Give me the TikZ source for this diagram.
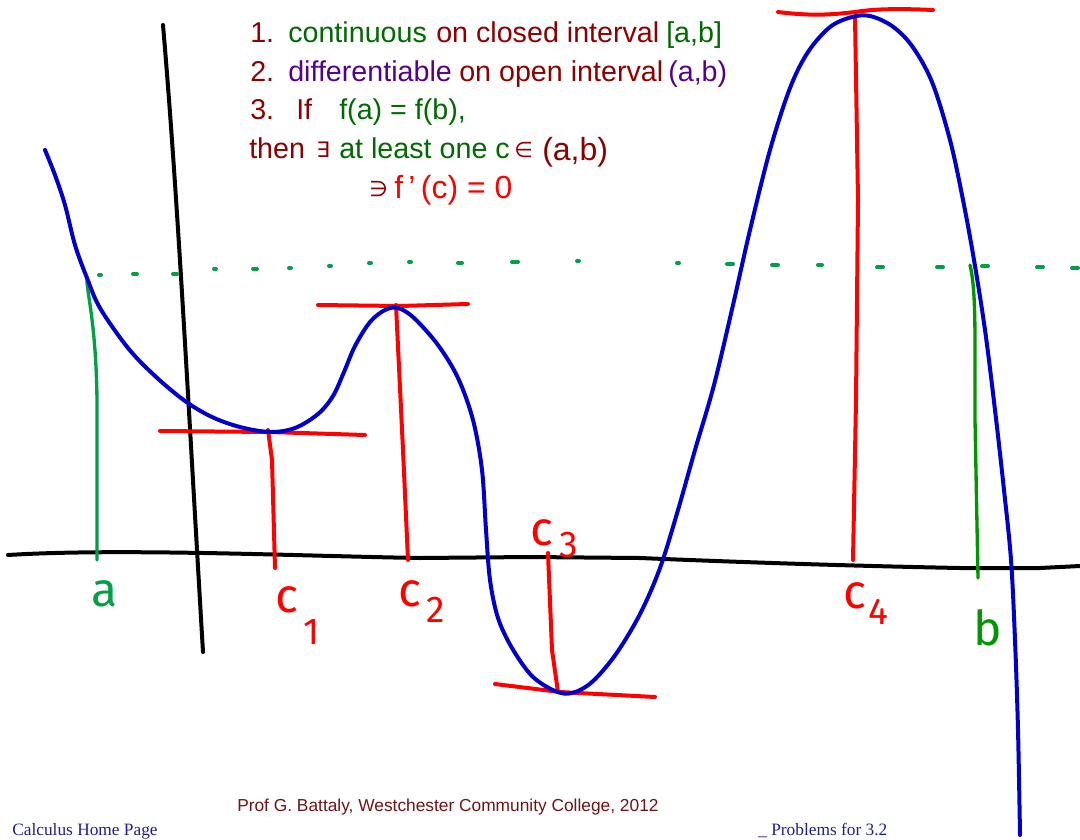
\documentclass[tikz,border=0pt]{standalone}
\usepackage{fontspec}
\setmainfont{Liberation Sans}
\newfontfamily\symf{DejaVu Sans}
\newfontfamily\serf{Liberation Serif}
\newfontfamily\handf{Fira Sans}
\definecolor{dred}{RGB}{140,0,0}
\definecolor{dgreen}{RGB}{0,105,0}
\definecolor{purp}{RGB}{85,0,140}
\definecolor{myblue}{RGB}{0,0,200}
\definecolor{mgreen}{RGB}{0,160,70}
\definecolor{bgreen}{RGB}{0,150,0}
\definecolor{navy}{RGB}{30,30,150}
\definecolor{foot}{RGB}{110,20,20}
\begin{document}
\begin{tikzpicture}[x=0.75pt,y=-0.75pt,
  ink/.style={line width=3pt,line cap=round,line join=round},
  txt/.style={anchor=base west,inner sep=0pt,font=\fontsize{21.5}{24}\selectfont},
  big/.style={anchor=base west,inner sep=0pt,font=\fontsize{24}{27}\selectfont},
  symb/.style={anchor=base west,inner sep=0pt,font=\symf\fontsize{16}{20}\selectfont},
  hand/.style={inner sep=0pt,font=\handf\fontsize{36}{38}\selectfont},
  handsub/.style={inner sep=0pt,font=\handf\fontsize{28}{30}\selectfont}]
\useasboundingbox (0,0) rectangle (1080,839);
% axes
\draw[ink,black] (8,555) .. controls (120,548) and (300,556) .. (420,558) -- (530,557) -- (640,558) .. controls (760,563) and (860,566) .. (960,568) -- (1040,568) -- (1080,566);
\draw[ink,black] (163,25) .. controls (178,200) and (188,400) .. (203,652);
% dotted line
\foreach \x/\y/\l in {100/275/1,135/274/2,175/274/2,215/269/1,255/269/2,290/268/1,330/266/1,370/263/1,410/262/1,460/263/2,515/262/3,578/261/1,678/263/1,730/264/3,775/265/3,820/265/2,880/267/3,940/267/3,985/266/3,1040/267/3,1075/268/3}
  \draw[line width=3pt,mgreen,line cap=round] (\x-\l,\y) -- (\x+\l,\y);
% green verticals
\draw[line width=2.5pt,mgreen,line cap=round] (87,278) .. controls (86,290) and (96,320) .. (97,400) -- (97,560);
\draw[line width=2.5pt,bgreen,line cap=round] (970,265) .. controls (976,290) and (975,330) .. (975,420) -- (978,578);
% red tangents and verticals
\draw[ink,red] (160,431) -- (270,432) -- (365,435);
\draw[ink,red] (268,430) -- (272,460) -- (275,568);
\draw[ink,red] (318,305) -- (400,306) -- (468,304);
\draw[ink,red] (396,305) -- (403,450) -- (408,560);
\draw[ink,red] (495,684) -- (560,692) -- (655,697);
\draw[ink,red] (548,553) -- (552,650) -- (558,692);
\draw[ink,red] (778,12) .. controls (810,16) and (830,15) .. (855,12) .. controls (880,8) and (910,9) .. (933,10);
\draw[ink,red] (855,17) -- (858,200) -- (856,400) -- (853,560);
% blue curve
\draw[ink,myblue] plot[smooth,tension=0.55] coordinates {(45,150) (55,175) (65,205) (75,245) (87,278) (100,308) (128,348) (155,376) (185,401) (212,417) (240,427) (270,432) (295,428) (318,414) (333,396) (344,372) (355,346) (370,322) (385,310) (398,308) (414,318) (438,345) (458,378) (473,420) (482,470) (486,530) (490,580) (498,618) (512,648) (532,676) (555,691) (572,693) (592,682) (616,654) (640,614) (660,568) (678,510) (695,450) (714,385) (733,305) (750,230) (770,150) (790,88) (808,52) (830,27) (852,17) (870,16) (892,26) (912,46) (932,82) (950,140) (963,200) (974,260) (985,330) (995,410) (1004,490) (1011,560) (1015,640) (1018,730) (1020,835)};
% top text
\node[txt,dred] (n1) at (250,42) {1.};
\node[txt,dgreen] (t1a) at (288,42) {continuous};
\node[txt,dred] (t1b) at (436,42) {on closed interval};
\node[txt,dgreen] (t1c) at (666,42) {[a,b]};
\node[txt,dred] (n2) at (250,81) {2.};
\node[txt,purp] (t2a) at (288,81) {differentiable};
\node[txt,dred] (t2b) at (459,81) {on open interval};
\node[txt,purp] (t2c) at (668,81) {(a,b)};
\node[txt,dred] (n3) at (250,119) {3.};
\node[txt,dred] (t3a) at (296,119) {If};
\node[txt,dgreen] (t3b) at (339,119) {f(a) = f(b),};
\node[txt,dred] (t4a) at (249,158) {then};
\node[symb,dred] (t4b) at (316,157) {∃};
\node[txt,dgreen] (t4c) at (339,158) {at least one c};
\node[symb,dred] (t4d) at (514,157) {∈};
\node[big,dred] (t4e) at (542,160) {(a,b)};
\node[symb,dred] (t5a) at (369,196) {∋};
\node[big,red] (t5b) at (394,198) {f\,'\,(c) = 0};
% handwritten labels
\node[hand,mgreen] (la) at (105,594) {a};
\node[hand,red] (lc1) at (287,600) {c};
\node[handsub,red] (lc1s) at (312,632) {1};
\node[hand,red] (lc2) at (410,594) {c};
\node[handsub,red] (lc2s) at (436,610) {2};
\node[hand,red] (lc3) at (542,533) {c};
\node[handsub,red] (lc3s) at (569,545) {3};
\node[hand,red] (lc4) at (855,596) {c};
\node[handsub,red] (lc4s) at (878,612) {4};
\node[hand,bgreen] (lb) at (988,628) {b};
% footer
\node[anchor=base west,inner sep=0pt,foot,font=\fontsize{13}{15}\selectfont] (f1) at (237,811) {Prof G. Battaly, Westchester Community College, 2012};
\node[anchor=base west,inner sep=0pt,navy,font=\serf\fontsize{13}{15}\selectfont] (f2) at (12,835) {Calculus Home Page};
\node[anchor=base west,inner sep=0pt,navy,font=\serf\fontsize{13}{15}\selectfont] (f3) at (758,835) {\_\ Problems for 3.2};
\end{tikzpicture}
\end{document}
